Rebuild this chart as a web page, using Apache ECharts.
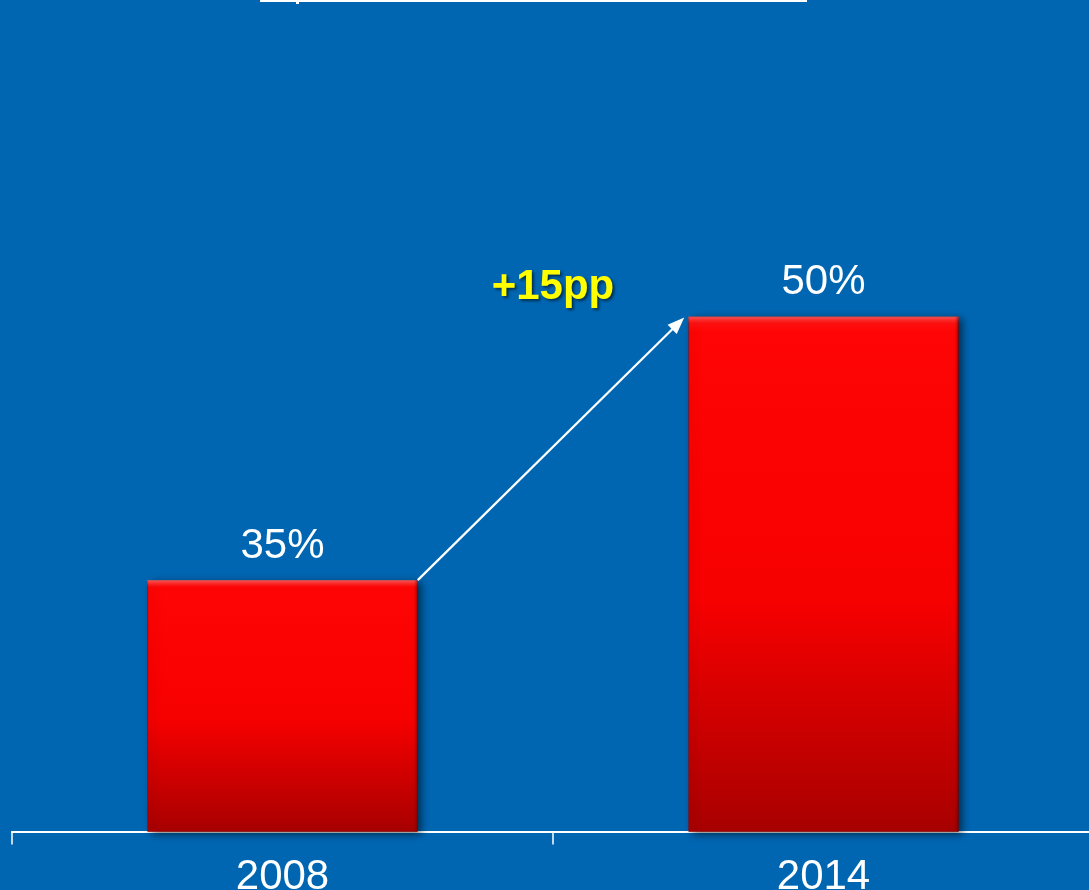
<!DOCTYPE html>
<html>
<head>
<meta charset="utf-8">
<title>Share 2008 vs 2014</title>
<script src="https://cdn.jsdelivr.net/npm/echarts@6/dist/echarts.min.js"></script>
<style>
  html, body { margin: 0; padding: 0; background: #0066B2; }
  #chart { width: 1089px; height: 890px; }
</style>
</head>
<body>
<div id="chart"></div>
<script>
// Chart data
const years = ['2008', '2014'];
const shares = [35, 50];
const valueUnit = '%';
const changeUnit = 'pp';

const Y_MIN = 20.7;
const Y_MAX = 68;
const FONT = '"Liberation Sans", Arial, Helvetica, sans-serif';

const chart = echarts.init(document.getElementById('chart'), null, { renderer: 'canvas' });

// Arrow from the top-right corner of the first bar to the top-left corner of
// the second one, with the change in percentage points written above it.
function renderChange(params, api) {
  const band = api.size([1, 0])[0];
  const half = band * 0.25;
  const p0 = api.coord([0, shares[0]]);
  const p1 = api.coord([1, shares[1]]);
  const sx = p0[0] + half, sy = p0[1];
  const ex = p1[0] - half - 4, ey = p1[1] + 1;
  const ang = Math.atan2(ey - sy, ex - sx);
  const headLen = 17, headW = 6.5;
  const bx = ex - headLen * Math.cos(ang), by = ey - headLen * Math.sin(ang);
  const nx = -Math.sin(ang), ny = Math.cos(ang);
  const diff = shares[1] - shares[0];
  return {
    type: 'group',
    children: [
      {
        type: 'line',
        shape: { x1: sx, y1: sy, x2: bx + 2 * Math.cos(ang), y2: by + 2 * Math.sin(ang) },
        style: { stroke: '#ffffff', lineWidth: 2.2 }
      },
      {
        type: 'polygon',
        shape: { points: [[ex, ey], [bx + nx * headW, by + ny * headW], [bx - nx * headW, by - ny * headW]] },
        style: { fill: '#ffffff' }
      },
      {
        type: 'text',
        x: (p0[0] + p1[0]) / 2,
        y: p1[1] - 29,
        style: {
          text: (diff > 0 ? '+' : '') + diff + changeUnit,
          fill: '#FFFF00',
          font: 'bold 42px ' + FONT,
          align: 'center',
          verticalAlign: 'middle',
          textShadowColor: 'rgba(0,0,0,0.55)',
          textShadowBlur: 3,
          textShadowOffsetX: 2,
          textShadowOffsetY: 2
        }
      }
    ]
  };
}

// Bevel highlight along the top edge and shading along the right edge of each bar
function renderBevel(params, api) {
  const band = api.size([1, 0])[0];
  const w = band * 0.5;
  const top = api.coord([api.value(0), api.value(1)]);
  const base = api.coord([api.value(0), Y_MIN]);
  const x = top[0] - w / 2, y = top[1], h = base[1] - top[1];
  return {
    type: 'group',
    children: [
      {
        type: 'rect',
        shape: { x: x, y: y, width: w, height: 7 },
        style: {
          fill: {
            type: 'linear', x: 0, y: 0, x2: 0, y2: 1,
            colorStops: [
              { offset: 0, color: 'rgba(255,140,140,0.55)' },
              { offset: 1, color: 'rgba(255,80,80,0)' }
            ]
          }
        }
      },
      {
        type: 'rect',
        shape: { x: x + w - 4, y: y, width: 4, height: h },
        style: {
          fill: {
            type: 'linear', x: 0, y: 0, x2: 1, y2: 0,
            colorStops: [
              { offset: 0, color: 'rgba(90,0,0,0)' },
              { offset: 1, color: 'rgba(90,0,0,0.45)' }
            ]
          }
        }
      }
    ]
  };
}

chart.setOption({
  backgroundColor: '#0066B2',
  animation: false,
  grid: { left: 12, top: 0, right: -5, bottom: 58.5, containLabel: false, outerBoundsMode: 'none' },
  xAxis: {
    type: 'category',
    data: years,
    axisLine: { lineStyle: { color: '#ffffff', width: 2 } },
    axisTick: { show: true, length: 13, lineStyle: { color: '#ffffff', width: 1.5 } },
    axisLabel: { color: '#ffffff', fontSize: 42, fontFamily: FONT, margin: 25 }
  },
  yAxis: {
    type: 'value',
    min: Y_MIN,
    max: Y_MAX,
    show: false,
    splitLine: { show: false }
  },
  graphic: [
    {
      type: 'line',
      shape: { x1: 260, y1: 1, x2: 807, y2: 1 },
      style: { stroke: '#ffffff', lineWidth: 2 }
    },
    {
      type: 'rect',
      shape: { x: 296, y: 0, width: 3, height: 4 },
      style: { fill: '#ffffff' }
    }
  ],
  series: [
    {
      type: 'bar',
      data: shares,
      barWidth: '50%',
      itemStyle: {
        color: {
          type: 'linear', x: 0, y: 0, x2: 0, y2: 1,
          colorStops: [
            { offset: 0, color: '#FF1A1A' },
            { offset: 0.03, color: '#FF0505' },
            { offset: 0.55, color: '#F70000' },
            { offset: 1, color: '#A80000' }
          ]
        },
        borderColor: 'rgba(140,0,0,0.55)',
        borderWidth: 1,
        shadowColor: 'rgba(0,0,0,0.55)',
        shadowBlur: 8,
        shadowOffsetX: 4,
        shadowOffsetY: 2
      },
      label: {
        show: true,
        position: 'top',
        distance: 13,
        color: '#ffffff',
        fontSize: 42,
        fontFamily: FONT,
        formatter: p => p.value + valueUnit
      }
    },
    {
      type: 'custom',
      data: shares.map((v, i) => [i, v]),
      z: 3,
      silent: true,
      renderItem: renderBevel
    },
    {
      type: 'custom',
      data: [0],
      z: 5,
      renderItem: renderChange
    }
  ]
});
</script>
</body>
</html>
